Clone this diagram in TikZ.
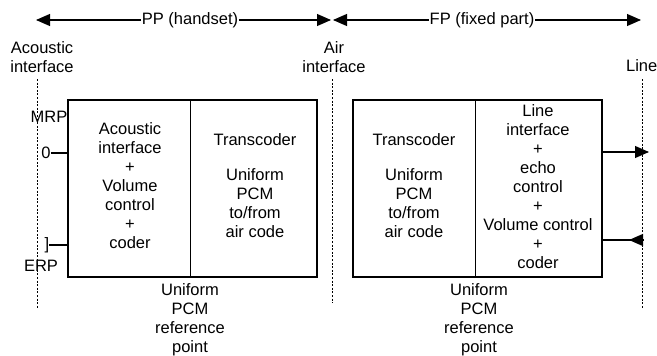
\documentclass[tikz,border=0pt]{standalone}
\usepackage{fontspec}
\setmainfont{Liberation Sans}
\usetikzlibrary{arrows.meta}
\begin{document}
\begin{tikzpicture}[x=1pt,y=-1pt,
  txt/.style={inner sep=0pt,font=\fontsize{16.5}{19}\selectfont,align=center},
  cell/.style={draw,line width=1pt,minimum height=177pt,anchor=north west,inner sep=0pt},
  outer/.style={draw,line width=2pt},
  refline/.style={line width=0.9pt,dash pattern=on 2pt off 1.6pt},
  conn/.style={line width=1.1pt},
  tip/.style={-{Triangle[length=14pt,width=12pt]}},
  dimarrow/.style={line width=1.1pt,-{Triangle[length=14pt,width=12pt]}}]
\useasboundingbox (0,0) rectangle (657,356);
% reference lines
\draw[refline] (37,79) coordinate (a1) -- (37,308) coordinate (a2);
\draw[refline] (332,79) coordinate (b1) -- (332,303) coordinate (b2);
\draw[refline] (642,79) coordinate (c1) -- (642,308) coordinate (c2);
% top dimension arrows
\node[txt,fill=white,inner xsep=1pt] (pp) at (190,20) {PP (handset)};
\coordinate (ppl) at (36,20);
\coordinate (ppr) at (331,20);
\draw[dimarrow] (pp.west) -- (ppl);
\draw[dimarrow] (pp.east) -- (ppr);
\node[txt,fill=white,inner xsep=1pt] (fp) at (482,20) {FP (fixed part)};
\coordinate (fpl) at (333,20);
\coordinate (fpr) at (641,20);
\draw[dimarrow] (fp.west) -- (fpl);
\draw[dimarrow] (fp.east) -- (fpr);
% interface labels
\node[txt] (acl) at (42,57) {Acoustic\\interface};
\node[txt] (airl) at (334,57) {Air\\interface};
\node[txt,anchor=east] (linel) at (657.5,66) {Line};
% left box
\node[cell,minimum width=122pt] (l1) at (68,100) {};
\node[cell,minimum width=127pt] (l2) at (190,100) {};
\draw[outer] (68,100) rectangle (317,277);
\node[txt,anchor=north] (l1t) at (130,122) {Acoustic\\interface\\+\\Volume\\control\\+\\coder};
\node[txt] (l2a) at (255,140) {Transcoder};
\node[txt,anchor=north] (l2b) at (255,168) {Uniform\\PCM\\to/from\\air code};
% right box
\node[cell,minimum width=122pt] (r1) at (353,100) {};
\node[cell,minimum width=127pt] (r2) at (475,100) {};
\draw[outer] (353,100) rectangle (602,277);
\node[txt] (r1a) at (414,140) {Transcoder};
\node[txt,anchor=north] (r1b) at (414,168) {Uniform\\PCM\\to/from\\air code};
\node[txt,anchor=north] (r2t) at (538,104) {Line\\interface\\+\\echo\\control\\+\\Volume control\\+\\coder};
% reference point labels
\node[txt,anchor=north] (rp1) at (190,283) {Uniform\\PCM\\reference\\point};
\node[txt,anchor=north] (rp2) at (479,283) {Uniform\\PCM\\reference\\point};
% MRP / ERP
\node[txt] (mrp) at (49,117) {MRP};
\node[txt] (zero) at (46,153) {0};
\node[txt] (brk) at (47,245) {]};
\node[txt] (erp) at (41,266) {ERP};
\draw[conn] (zero.east) -- (l1.west |- zero.east);
\draw[conn] (brk.east) -- (l1.west |- brk.east);
% line side connectors
\coordinate (out1) at (649,152);
\coordinate (in1) at (644,240);
\coordinate (in1t) at (629,240);
\draw[conn] (r2.east |- out1) -- (in1 |- out1);
\draw[conn,tip] (635,152) -- (out1);
\draw[conn] (r2.east |- in1) -- (in1);
\draw[conn,tip] (in1) -- (in1t);
\end{tikzpicture}
\end{document}
